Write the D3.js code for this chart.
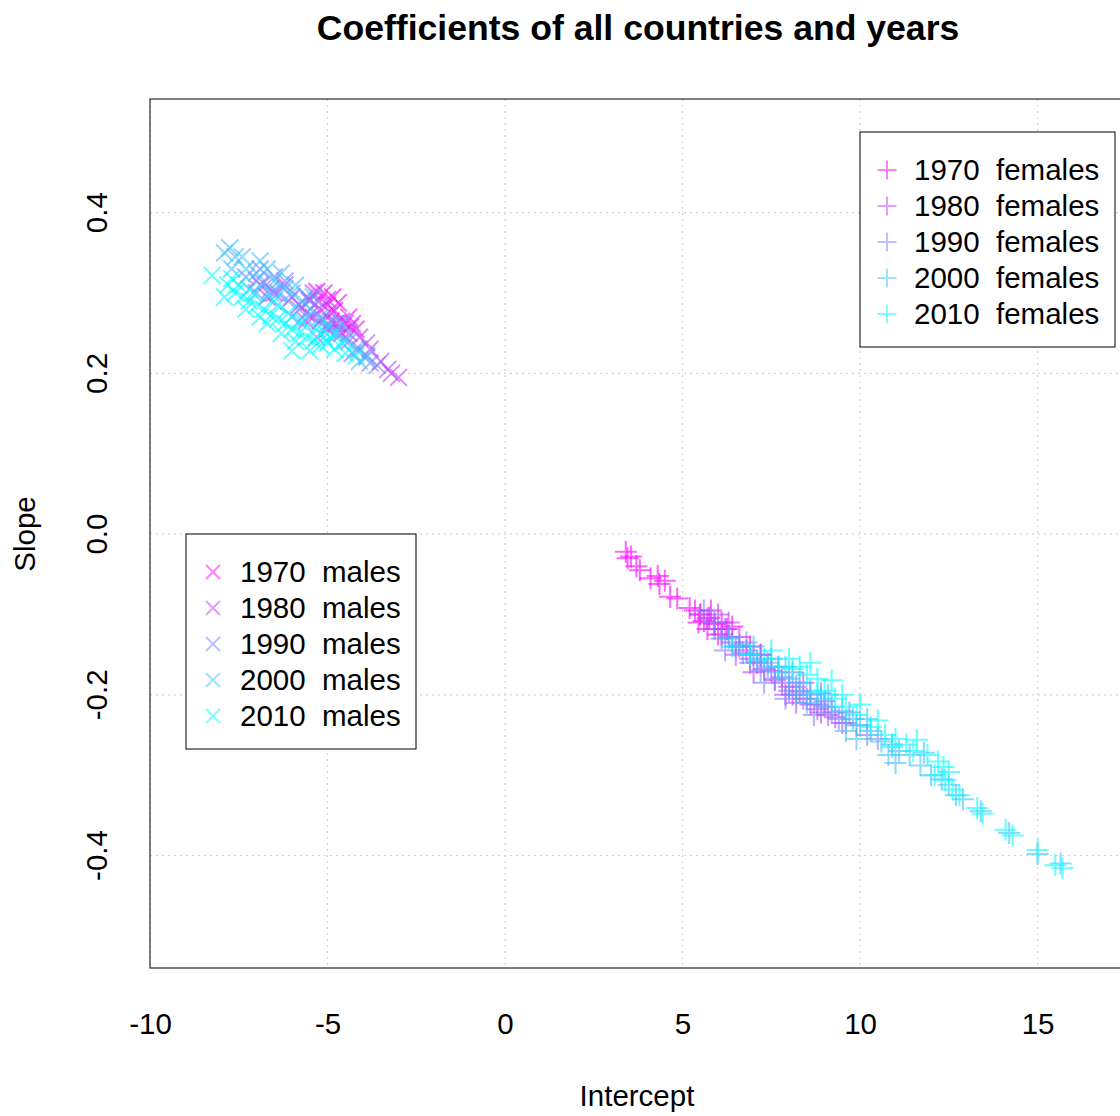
<!DOCTYPE html>
<html>
<head>
<meta charset="utf-8">
<script src="https://cdn.jsdelivr.net/npm/d3@7"></script>
<style>
  body { margin: 0; background: #fff; }
  svg { display: block; font-family: "Liberation Sans", Arial, sans-serif; }
</style>
</head>
<body>
<svg id="chart"></svg>
<script>
// ---- data: [intercept, slope] per country
const years = ["1970", "1980", "1990", "2000", "2010"];
const colors = ["#FF00FF", "#BF3FFF", "#7F7FFF", "#3FBFFF", "#00FFFF"];

const fem1970 = [[3.40,-0.022],[3.45,-0.030],[3.55,-0.028],[3.70,-0.040],[3.80,-0.045],[4.10,-0.055],[4.30,-0.052],[4.35,-0.062],[4.50,-0.058],[4.65,-0.078],[4.85,-0.080],[5.20,-0.092],[5.35,-0.095],[5.50,-0.100],[5.60,-0.108],[5.75,-0.104],[5.90,-0.112],[6.10,-0.110],[6.25,-0.118],[6.40,-0.115],[6.00,-0.125],[5.70,-0.118],[6.60,-0.128],[6.90,-0.140],[7.20,-0.150],[5.45,-0.110],[5.80,-0.095]];
const fem1980 = [[5.5,-0.100],[5.7,-0.105],[5.9,-0.118],[6.1,-0.125],[6.2,-0.118],[6.4,-0.135],[6.6,-0.140],[6.8,-0.145],[6.9,-0.155],[7.1,-0.160],[7.3,-0.168],[7.5,-0.170],[7.6,-0.182],[7.8,-0.185],[8.0,-0.190],[8.1,-0.200],[8.3,-0.196],[8.5,-0.205],[8.6,-0.212],[8.8,-0.218],[8.9,-0.222],[9.1,-0.225],[9.3,-0.228],[7.0,-0.172],[8.2,-0.210],[6.5,-0.150],[6.3,-0.110],[7.2,-0.150],[7.9,-0.200],[8.4,-0.185],[9.0,-0.208],[9.5,-0.235],[6.0,-0.100],[7.7,-0.165]];
const fem1990 = [[5.6,-0.095],[5.9,-0.110],[6.1,-0.130],[6.3,-0.128],[6.5,-0.140],[6.7,-0.148],[6.9,-0.160],[7.0,-0.150],[7.2,-0.170],[7.4,-0.165],[7.6,-0.180],[7.8,-0.178],[8.0,-0.195],[8.2,-0.190],[8.4,-0.205],[8.6,-0.200],[8.8,-0.212],[9.0,-0.215],[9.2,-0.222],[9.4,-0.230],[9.6,-0.235],[9.9,-0.238],[10.2,-0.250],[6.2,-0.145],[7.3,-0.185],[6.8,-0.135],[7.5,-0.155],[8.1,-0.172],[8.9,-0.198],[9.7,-0.222],[10.5,-0.255],[7.9,-0.205],[8.7,-0.225]];
const fem2000 = [[6.3,-0.130],[6.6,-0.138],[6.9,-0.150],[7.1,-0.158],[7.4,-0.160],[7.7,-0.172],[8.0,-0.180],[8.3,-0.185],[8.6,-0.195],[8.9,-0.205],[9.2,-0.215],[9.5,-0.220],[9.8,-0.230],[10.0,-0.238],[10.3,-0.245],[10.6,-0.258],[10.9,-0.262],[11.1,-0.270],[11.4,-0.275],[11.7,-0.288],[12.0,-0.300],[12.3,-0.305],[12.7,-0.325],[9.6,-0.245],[10.8,-0.275],[7.0,-0.140],[7.9,-0.165],[8.5,-0.210],[9.1,-0.200],[10.2,-0.230],[11.0,-0.285],[11.8,-0.272],[12.5,-0.312],[9.9,-0.255],[8.2,-0.200],[12.9,-0.330],[13.4,-0.345],[14.2,-0.372],[15.0,-0.398],[15.65,-0.410]];
const fem2010 = [[6.4,-0.140],[6.9,-0.150],[7.3,-0.155],[7.7,-0.165],[8.1,-0.168],[8.3,-0.165],[8.5,-0.175],[8.8,-0.180],[9.0,-0.195],[9.3,-0.205],[9.6,-0.215],[9.9,-0.225],[10.3,-0.240],[10.7,-0.250],[11.0,-0.255],[11.3,-0.262],[11.6,-0.256],[11.9,-0.275],[12.2,-0.283],[12.35,-0.290],[12.4,-0.306],[12.5,-0.296],[12.8,-0.325],[13.3,-0.341],[13.45,-0.348],[14.1,-0.368],[14.3,-0.375],[15.0,-0.393],[15.5,-0.412],[15.7,-0.416],[7.5,-0.145],[8.0,-0.155],[8.6,-0.160],[9.2,-0.182],[9.5,-0.200],[10.0,-0.212],[10.5,-0.232],[11.5,-0.270],[12.1,-0.300],[12.6,-0.318],[8.8,-0.198],[10.9,-0.265]];

const mal1970 = [[-5.3,0.302],[-5.1,0.300],[-4.85,0.295],[-4.7,0.288],[-5.0,0.285],[-5.4,0.270],[-5.15,0.268],[-4.9,0.265],[-4.75,0.262],[-4.5,0.262],[-4.35,0.258],[-4.2,0.255],[-5.6,0.275],[-4.6,0.250],[-5.0,0.255],[-5.5,0.292],[-4.4,0.270],[-4.8,0.278],[-5.25,0.290]];
const mal1980 = [[-6.5,0.300],[-6.0,0.295],[-5.8,0.285],[-5.5,0.290],[-5.2,0.280],[-4.9,0.275],[-4.6,0.265],[-4.4,0.250],[-4.1,0.245],[-3.8,0.230],[-3.5,0.215],[-3.3,0.205],[-3.0,0.195],[-6.9,0.310],[-5.6,0.265],[-6.2,0.310],[-5.0,0.292],[-4.3,0.262],[-3.9,0.238],[-3.2,0.200],[-6.7,0.295],[-5.4,0.300]];
const mal1990 = [[-7.3,0.320],[-7.0,0.316],[-6.8,0.312],[-6.6,0.305],[-6.4,0.300],[-6.1,0.290],[-5.8,0.280],[-5.5,0.272],[-5.2,0.265],[-5.0,0.258],[-4.7,0.250],[-4.4,0.240],[-4.1,0.230],[-3.8,0.213],[-3.6,0.210],[-6.0,0.270],[-5.3,0.245],[-7.0,0.300],[-6.5,0.320],[-6.2,0.315],[-5.6,0.295],[-4.8,0.262],[-4.3,0.225],[-3.9,0.222],[-6.9,0.330]];
const mal2000 = [[-7.9,0.350],[-7.75,0.356],[-7.6,0.345],[-7.3,0.330],[-7.0,0.325],[-6.7,0.330],[-6.5,0.315],[-6.2,0.305],[-6.0,0.300],[-5.7,0.290],[-5.5,0.280],[-5.2,0.270],[-5.0,0.262],[-4.8,0.250],[-4.5,0.240],[-4.2,0.230],[-3.9,0.220],[-6.4,0.285],[-5.8,0.265],[-7.2,0.305],[-7.7,0.330],[-7.4,0.345],[-6.9,0.340],[-6.3,0.325],[-5.9,0.310],[-5.4,0.295],[-4.6,0.262],[-4.1,0.215],[-6.6,0.300],[-5.1,0.245]];
const mal2010 = [[-8.25,0.322],[-7.8,0.310],[-7.6,0.300],[-7.4,0.295],[-7.2,0.290],[-7.0,0.285],[-6.8,0.280],[-6.6,0.272],[-6.4,0.268],[-6.2,0.262],[-6.0,0.255],[-5.8,0.250],[-5.6,0.245],[-5.4,0.240],[-5.2,0.235],[-5.0,0.238],[-4.8,0.230],[-4.5,0.225],[-4.2,0.222],[-5.5,0.228],[-6.9,0.270],[-7.5,0.310],[-6.3,0.250],[-5.1,0.252],[-7.9,0.295],[-7.3,0.280],[-7.1,0.300],[-6.7,0.262],[-6.5,0.290],[-6.1,0.275],[-5.9,0.240],[-5.7,0.265],[-5.3,0.255],[-4.9,0.245],[-4.6,0.238],[-7.7,0.318],[-6.0,0.228]];

const females = [fem1970, fem1980, fem1990, fem2000, fem2010];
const males = [mal1970, mal1980, mal1990, mal2000, mal2010];

const xTicks = [-10, -5, 0, 5, 10, 15];
const yTicks = [-0.4, -0.2, 0.0, 0.2, 0.4];

// ---- layout
const W = 1120, H = 1116;
const box = { left: 150, right: 1132, top: 99, bottom: 968 };
const fs = 29.5;

const svg = d3.select('#chart').attr('width', W).attr('height', H);

const x = d3.scaleLinear().domain([-10, 17.66]).range([box.left, box.right]);
const y = d3.scaleLinear().domain([-0.54, 0.5415]).range([box.bottom, box.top]);

// grid
svg.append('g').selectAll('line').data(xTicks).enter().append('line')
  .attr('x1', d => x(d)).attr('x2', d => x(d))
  .attr('y1', box.top).attr('y2', box.bottom)
  .attr('stroke', '#d3d3d3').attr('stroke-width', 1.2).attr('stroke-dasharray', '2,4');
svg.append('g').selectAll('line').data(yTicks).enter().append('line')
  .attr('y1', d => y(d)).attr('y2', d => y(d))
  .attr('x1', box.left).attr('x2', box.right)
  .attr('stroke', '#d3d3d3').attr('stroke-width', 1.2).attr('stroke-dasharray', '2,4');

// points
const plusR = 11, crossR = 8.5;
const plusPath = d => `M${x(d[0]) - plusR},${y(d[1])}H${x(d[0]) + plusR}M${x(d[0])},${y(d[1]) - plusR}V${y(d[1]) + plusR}`;
const crossPath = d => `M${x(d[0]) - crossR},${y(d[1]) - crossR}L${x(d[0]) + crossR},${y(d[1]) + crossR}M${x(d[0]) - crossR},${y(d[1]) + crossR}L${x(d[0]) + crossR},${y(d[1]) - crossR}`;

years.forEach((yr, i) => {
  svg.append('g').selectAll('path').data(females[i]).enter().append('path')
    .attr('d', plusPath)
    .attr('fill', 'none').attr('stroke', colors[i])
    .attr('stroke-opacity', 0.6).attr('stroke-width', 2);
  svg.append('g').selectAll('path').data(males[i]).enter().append('path')
    .attr('d', crossPath)
    .attr('fill', 'none').attr('stroke', colors[i])
    .attr('stroke-opacity', 0.6).attr('stroke-width', 2);
});

// box
svg.append('rect')
  .attr('x', box.left).attr('y', box.top)
  .attr('width', box.right - box.left).attr('height', box.bottom - box.top)
  .attr('fill', 'none').attr('stroke', 'black').attr('stroke-width', 1);

// x axis (labels only, no tick marks)
const xAxis = d3.axisBottom(x).tickValues(xTicks).tickSize(0).tickPadding(45)
  .tickFormat(d => d < 0 ? '-' + Math.abs(d) : d);
const xAxisG = svg.append('g').attr('transform', `translate(0,${box.bottom})`).call(xAxis);
xAxisG.select('.domain').remove();
xAxisG.selectAll('text').style('font-size', fs + 'px').attr('fill', 'black')
  .style('font-family', '"Liberation Sans", Arial, sans-serif');

// y axis labels, rotated as R does
svg.append('g').selectAll('text').data(yTicks).enter().append('text')
  .attr('transform', d => `translate(107,${y(d)}) rotate(-90)`)
  .attr('text-anchor', 'middle')
  .style('font-size', fs + 'px')
  .text(d => d === 0 ? '0.0' : (d < 0 ? '-' + Math.abs(d).toFixed(1) : d.toFixed(1)));

// titles
svg.append('text')
  .attr('x', 638).attr('y', 40)
  .attr('text-anchor', 'middle')
  .style('font-size', '35.6px').style('font-weight', 700)
  .text('Coefficients of all countries and years');
svg.append('text')
  .attr('x', 637).attr('y', 1106)
  .attr('text-anchor', 'middle')
  .style('font-size', fs + 'px')
  .text('Intercept');
svg.append('text')
  .attr('transform', `translate(35,534) rotate(-90)`)
  .attr('text-anchor', 'middle')
  .style('font-size', fs + 'px')
  .text('Slope');

// legends
function legend(x0, y0, w, h, markX, textX, rowY, label, pathFn) {
  const g = svg.append('g');
  g.append('rect').attr('x', x0).attr('y', y0).attr('width', w).attr('height', h)
    .attr('fill', 'white').attr('stroke', 'black').attr('stroke-width', 1);
  years.forEach((yr, i) => {
    const cy = rowY + i * 36;
    g.append('path').attr('d', pathFn(markX, cy))
      .attr('fill', 'none').attr('stroke', colors[i])
      .attr('stroke-opacity', 0.5).attr('stroke-width', 2);
    g.append('text').attr('x', textX).attr('y', cy + 10)
      .style('font-size', fs + 'px')
      .text(yr + '\u00a0\u00a0' + label);
  });
}
legend(860, 132, 255, 215, 887, 914, 170, 'females',
  (cx, cy) => `M${cx - 9.5},${cy}H${cx + 9.5}M${cx},${cy - 9.5}V${cy + 9.5}`);
legend(186, 534, 230, 215, 213, 240, 572, 'males',
  (cx, cy) => `M${cx - 7},${cy - 7}L${cx + 7},${cy + 7}M${cx - 7},${cy + 7}L${cx + 7},${cy - 7}`);
</script>
</body>
</html>
